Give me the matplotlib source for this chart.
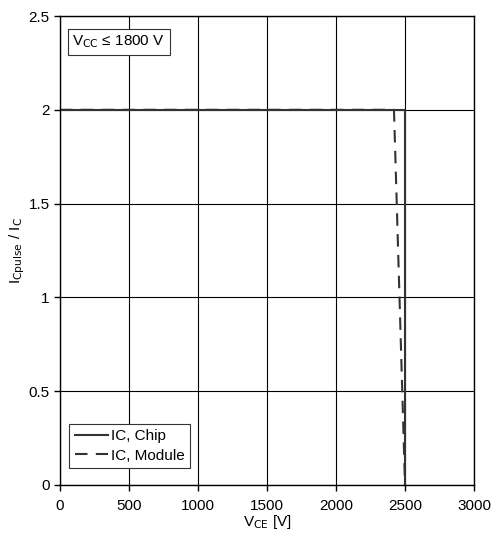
import matplotlib.pyplot as plt

plt.rcParams['font.family'] = ['Liberation Sans', 'DejaVu Sans']

# data
vce_chip = [0, 2500, 2500]
ic_chip = [2, 2, 0]
vce_module = [0, 2420, 2500]
ic_module = [2, 2, 0]
xticks = [0, 500, 1000, 1500, 2000, 2500, 3000]
yticks = [0, 0.5, 1, 1.5, 2, 2.5]

fig = plt.figure(figsize=(4.93, 5.39), dpi=100)
ax = fig.add_axes([0.1217, 0.1002, 0.8398, 0.8701])

ax.plot(vce_chip, ic_chip, color='#333333', lw=1.5, label='IC, Chip')
ax.plot(vce_module, ic_module, color='#333333', lw=1.5, ls=(0, (6, 4)), label='IC, Module')

ax.set_xlim(0, 3000)
ax.set_ylim(0, 2.5)
ax.set_xticks(xticks)
ax.set_yticks(yticks)
ax.set_yticklabels(['0', '0.5', '1', '1.5', '2', '2.5'])
ax.grid(True, color='black', lw=0.8)
ax.set_axisbelow(True)
ax.tick_params(direction='out', length=4, width=1, labelsize=11, colors='black')
ax.tick_params(axis='x', pad=6)
for s in ax.spines.values():
    s.set_linewidth(1)

ax.set_xlabel(r'V$_{\mathrm{CE}}$ [V]', fontsize=11, labelpad=0)
ax.set_ylabel(r'I$_{\mathrm{Cpulse}}$ / I$_{\mathrm{C}}$', fontsize=11, labelpad=1)

ax.text(0.03, 0.945, 'V$_{\\mathrm{CC}}$ ≤ 1800 V', transform=ax.transAxes, fontsize=11,
        va='center', ha='left',
        bbox=dict(boxstyle='square,pad=0.3', fc='white', ec='#333333', lw=0.8))

leg = ax.legend(loc='lower left', bbox_to_anchor=(0.015, 0.03), fontsize=11, frameon=True,
                fancybox=False, edgecolor='#333333', framealpha=1, handlelength=2.2,
                handletextpad=0.2, borderpad=0.35, labelspacing=0.35, borderaxespad=0.2)
leg.get_frame().set_linewidth(0.8)

fig.savefig('out.png', dpi=100)
